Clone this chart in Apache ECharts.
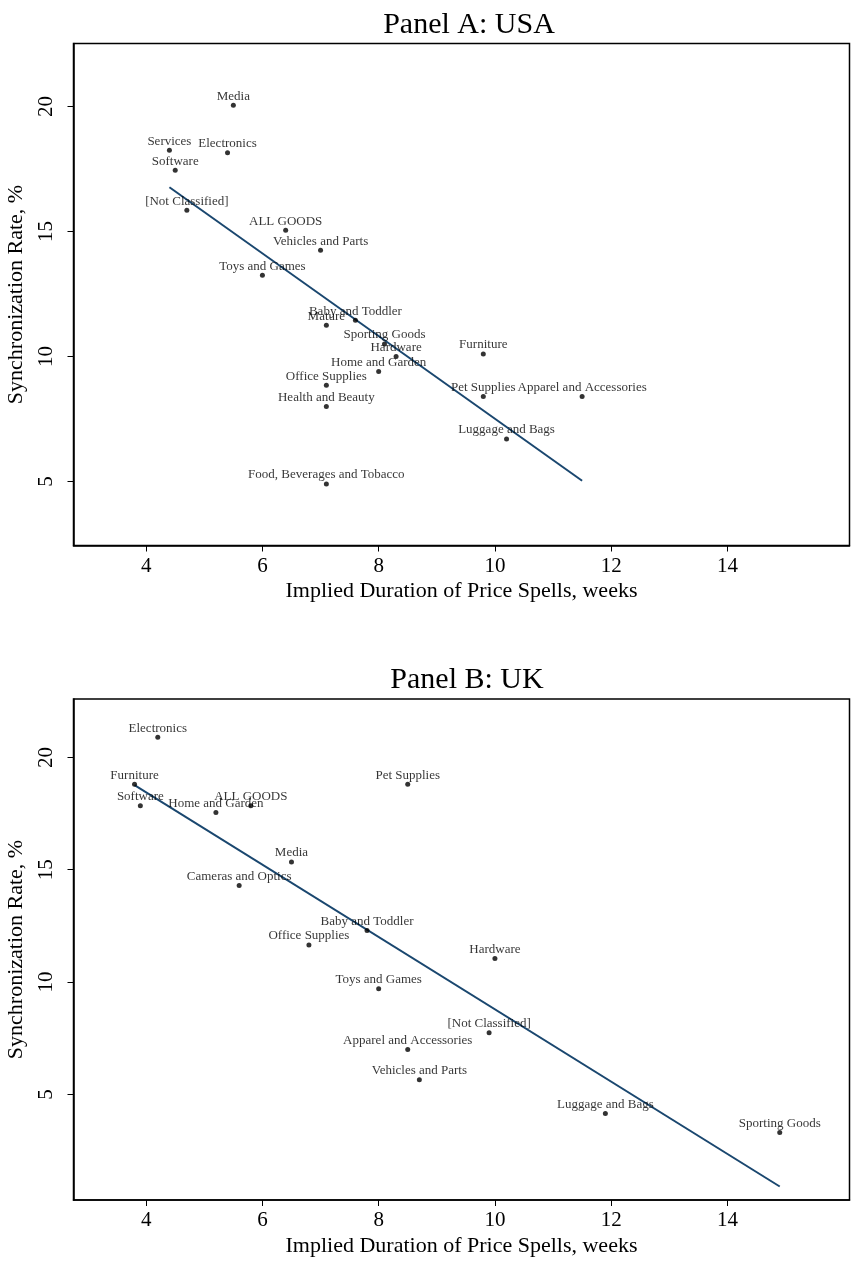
<!DOCTYPE html>
<html>
<head>
<meta charset="utf-8">
<script src="https://cdn.jsdelivr.net/npm/echarts@6/dist/echarts.min.js"></script>
<style>
  html, body { margin: 0; padding: 0; background: #fff; }
  #chart { width: 851px; height: 1262px; }
</style>
</head>
<body>
<div id="chart"></div>
<script>
// Panel A: USA
var usaNames = ['Media', 'Services', 'Electronics', 'Software', '[Not Classified]', 'ALL GOODS',
  'Vehicles and Parts', 'Toys and Games', 'Mature', 'Baby and Toddler', 'Sporting Goods', 'Hardware',
  'Home and Garden', 'Office Supplies', 'Health and Beauty', 'Food, Beverages and Tobacco',
  'Furniture', 'Pet Supplies', 'Apparel and Accessories', 'Luggage and Bags'];
var usaDuration = [5.5, 4.4, 5.4, 4.5, 4.7, 6.4, 7.0, 6.0, 7.1, 7.6, 8.1, 8.3, 8.0, 7.1, 7.1, 7.1, 9.8, 9.8, 11.5, 10.2];
var usaSync = [20.05, 18.25, 18.15, 17.45, 15.85, 15.05, 14.25, 13.25, 11.25, 11.45, 10.5, 10.0, 9.4, 8.85, 8.0, 4.9, 10.1, 8.4, 8.4, 6.7];
var usaFitX = [4.4, 11.5];
var usaFitY = [16.77, 5.03];

// Panel B: UK
var ukNames = ['Electronics', 'Furniture', 'Pet Supplies', 'Software', 'ALL GOODS', 'Home and Garden',
  'Media', 'Cameras and Optics', 'Baby and Toddler', 'Office Supplies', 'Hardware', 'Toys and Games',
  '[Not Classified]', 'Apparel and Accessories', 'Vehicles and Parts', 'Luggage and Bags', 'Sporting Goods'];
var ukDuration = [4.2, 3.8, 8.5, 3.9, 5.8, 5.2, 6.5, 5.6, 7.8, 6.8, 10.0, 8.0, 9.9, 8.5, 8.7, 11.9, 14.9];
var ukSync = [20.9, 18.8, 18.8, 17.85, 17.85, 17.55, 15.35, 14.3, 12.3, 11.65, 11.05, 9.7, 7.75, 7.0, 5.65, 4.15, 3.3];
var ukFitX = [3.8, 14.9];
var ukFitY = [18.77, 0.9];

var xTicks = [4, 6, 8, 10, 12, 14];
var yTicks = [5, 10, 15, 20];

var serif = 'Liberation Serif';
var fitColor = '#1a476f';

function points(names, xs, ys) {
  return names.map(function(n, i) { return { name: n, value: [xs[i], ys[i]] }; });
}
function pairs(xs, ys) {
  return xs.map(function(x, i) { return [x, ys[i]]; });
}

function xAxisFor(gridIndex) {
  return {
    type: 'value', gridIndex: gridIndex, min: 2.75, max: 16.1,
    name: 'Implied Duration of Price Spells, weeks', nameLocation: 'middle', nameGap: 35,
    nameTextStyle: { fontFamily: serif, fontSize: 22, color: '#000' },
    axisLine: { show: true, lineStyle: { color: '#000', width: 1.5 } },
    axisTick: { show: true, inside: false, length: 6, customValues: xTicks, lineStyle: { color: '#000' } },
    axisLabel: { customValues: xTicks, margin: 10, fontFamily: serif, fontSize: 21, color: '#000' },
    splitLine: { show: false }
  };
}
function yAxisFor(gridIndex, min, max) {
  return {
    type: 'value', gridIndex: gridIndex, min: min, max: max,
    name: 'Synchronization Rate, %', nameLocation: 'middle', nameGap: 40,
    nameTextStyle: { fontFamily: serif, fontSize: 22, color: '#000' },
    axisLine: { show: true, lineStyle: { color: '#000', width: 1.5 } },
    axisTick: { show: true, inside: false, length: 6, customValues: yTicks, lineStyle: { color: '#000' } },
    axisLabel: { customValues: yTicks, rotate: 90, margin: 17, fontFamily: serif, fontSize: 21, color: '#000' },
    splitLine: { show: false }
  };
}
function scatterFor(idx, data) {
  return {
    type: 'scatter', xAxisIndex: idx, yAxisIndex: idx, data: data,
    symbol: 'circle', symbolSize: 5, itemStyle: { color: '#000' },
    label: {
      show: true, position: 'top', distance: 0,
      formatter: function(p) { return p.name; },
      fontFamily: serif, fontSize: 13, color: '#000'
    },
    z: 3
  };
}
function fitFor(idx, data) {
  return {
    type: 'line', xAxisIndex: idx, yAxisIndex: idx, data: data,
    showSymbol: false, lineStyle: { color: fitColor, width: 2 }, z: 2
  };
}

var chart = echarts.init(document.getElementById('chart'));
chart.setOption({
  animation: false,
  backgroundColor: '#fff',
  title: [
    { text: 'Panel A: USA', left: 464, top: 5, textAlign: 'center',
      textStyle: { fontFamily: serif, fontSize: 30, fontWeight: 'normal', color: '#000' } },
    { text: 'Panel B: UK', left: 462, top: 660, textAlign: 'center',
      textStyle: { fontFamily: serif, fontSize: 30, fontWeight: 'normal', color: '#000' } }
  ],
  grid: [
    { left: 73.5, right: 1.5, top: 43.5, height: 502, show: true, borderColor: '#000', borderWidth: 1.5,
      containLabel: false, outerBoundsMode: 'none' },
    { left: 73.5, right: 1.5, top: 699, height: 501, show: true, borderColor: '#000', borderWidth: 1.5,
      containLabel: false, outerBoundsMode: 'none' }
  ],
  xAxis: [xAxisFor(0), xAxisFor(1)],
  yAxis: [yAxisFor(0, 2.44, 22.52), yAxisFor(1, 0.3, 22.6)],
  series: [
    fitFor(0, pairs(usaFitX, usaFitY)),
    scatterFor(0, points(usaNames, usaDuration, usaSync)),
    fitFor(1, pairs(ukFitX, ukFitY)),
    scatterFor(1, points(ukNames, ukDuration, ukSync))
  ]
});
</script>
</body>
</html>
